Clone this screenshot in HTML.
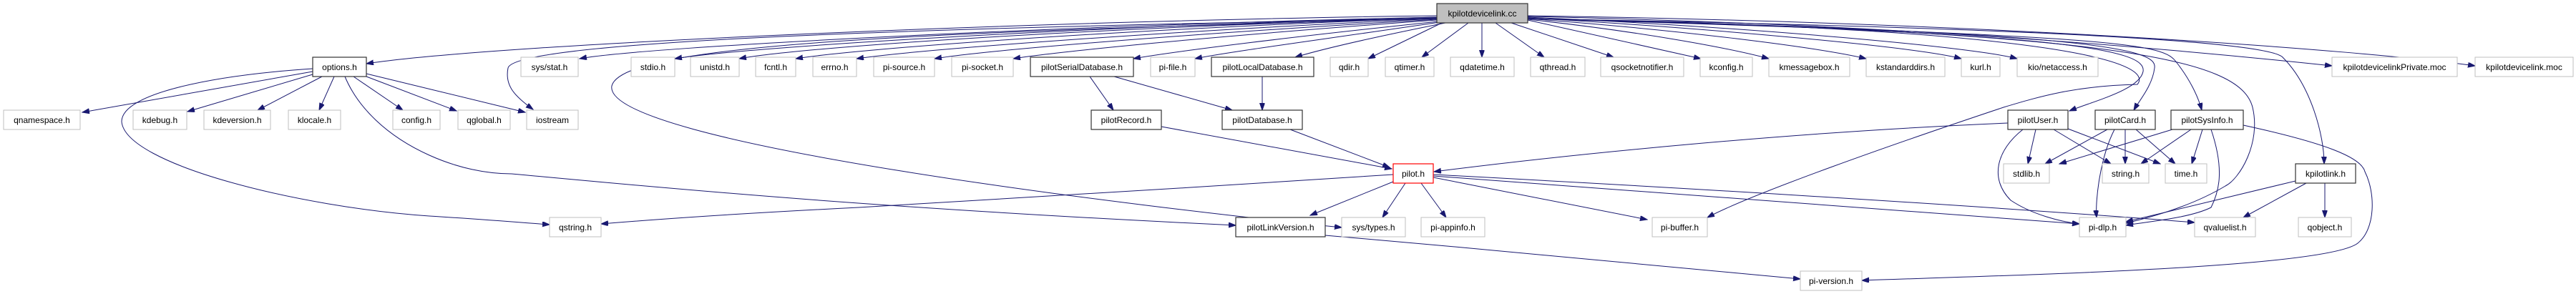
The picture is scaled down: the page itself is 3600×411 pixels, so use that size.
<!DOCTYPE html>
<html><head><meta charset="utf-8"><style>
html,body{margin:0;padding:0;background:#fff;}
svg{display:block;}
text{font-family:"Liberation Sans",sans-serif;font-size:12px;fill:#000;text-anchor:middle;}
.n{fill:#fff;stroke:#bfbfbf;stroke-width:1;}
.b{fill:#fff;stroke:#333;stroke-width:1.2;}
.e{fill:none;stroke:#191970;stroke-width:1;}
</style></head><body>
<svg width="3600" height="411" viewBox="0 0 3600 411" xmlns="http://www.w3.org/2000/svg">
<defs><marker id="a" markerUnits="userSpaceOnUse" markerWidth="11" markerHeight="8" refX="10" refY="3.5" orient="auto"><path d="M0,0 L10,3.5 L0,7 z" fill="#191970" stroke="#191970"/></marker></defs>
<g class="e" marker-end="url(#a)">
<!-- top edges -->
<path d="M2008,22 C1500,28 700,60 512,89"/>
<path d="M2008,24 C1500,35 900,65 810,82"/>
<path d="M2008,26 C1200,40 720,60 710,95 C705,120 720,135 745,153"/>
<path d="M2008,24 C1500,38 1050,65 943,82"/>
<path d="M2008,25 C1500,40 1120,66 1033,82"/>
<path d="M2008,25 C1550,42 1200,68 1112,82"/>
<path d="M2008,26 C1600,45 1280,70 1197,82"/>
<path d="M2008,27 C1650,48 1380,70 1306,82"/>
<path d="M2008,28 C1700,50 1480,72 1416,82"/>
<path d="M2010,30 C1800,52 1640,72 1584,82"/>
<path d="M2012,31 C1850,55 1720,72 1670,82"/>
<path d="M2020,32 C1930,50 1850,68 1810,80"/>
<path d="M2015,32 L1912,82"/>
<path d="M2052,32 L1987,80"/>
<path d="M2071,32 L2071,80"/>
<path d="M2090,32 L2158,80"/>
<path d="M2112,32 L2255,80"/>
<path d="M2135,28 L2377,82"/>
<path d="M2135,27 C2300,45 2420,68 2472,82"/>
<path d="M2135,26 C2350,42 2540,66 2608,82"/>
<path d="M2135,25 C2400,40 2680,66 2741,82"/>
<path d="M2135,24 C2450,38 2760,66 2819,82"/>
<path d="M2135,23 C2700,35 3100,75 3259,92"/>
<path d="M2135,22 C2800,32 3300,70 3459,92"/>
<path d="M2008,26 C1300,45 870,60 855,120 C840,200 1600,290 1875,318"/>
<path d="M2135,26 C2900,40 3010,90 2987,118 C2900,120 2850,135 2800,150 C2650,200 2450,270 2386,304"/>
<path d="M2135,26 C2900,45 3000,70 2995,100 C2990,125 2930,140 2892,155"/>
<path d="M2135,26 C2950,45 3015,70 3011,95 C3008,120 2990,140 2982,154"/>
<path d="M2135,26 C2950,50 3020,60 3040,85 C3060,110 3072,135 3077,154"/>
<path d="M2135,26 C2950,45 3130,80 3148,150 C3160,200 3130,250 3110,260 C3060,290 3000,305 2971,312"/>
<path d="M2135,26 C2900,40 3170,60 3190,80 C3230,120 3248,190 3248,229"/>
<!-- options -->
<path d="M437,100 L115,157"/>
<path d="M437,104 L262,156"/>
<path d="M450,107 L360,154"/>
<path d="M467,107 L446,154"/>
<path d="M494,107 L563,154"/>
<path d="M512,107 L638,155"/>
<path d="M512,103 L734,157"/>
<path d="M437,96 C300,105 170,130 170,170 C175,230 420,290 600,302 C680,307 740,312 768,314"/>
<path d="M482,107 C500,150 540,190 600,217 C640,235 680,243 715,243 C900,260 1200,290 1727,315"/>
<!-- databases -->
<path d="M1523,107 L1556,154"/>
<path d="M1557,107 L1722,154"/>
<path d="M1764,107 L1764,154"/>
<path d="M1623,177 L1945,236"/>
<path d="M1803,181 L1942,234"/>
<!-- pilot.h -->
<path d="M1947,244 C1700,260 1300,285 1200,290 C1000,300 900,308 840,313"/>
<path d="M1947,254 L1831,301"/>
<path d="M1964,256 L1932,304"/>
<path d="M1986,256 L2021,304"/>
<path d="M2003,248 L2302,307"/>
<path d="M2003,246 C2400,276 2700,300 2906,313"/>
<path d="M2003,244 C2400,265 2800,290 3067,311"/>
<path d="M1852,329 C2100,350 2400,380 2516,390"/>
<!-- pilotUser -->
<path d="M2806,172 C2500,185 2200,215 2004,240"/>
<path d="M2845,181 L2834,229"/>
<path d="M2870,181 L2950,229"/>
<path d="M2890,180 L3019,229"/>
<path d="M2827,181 C2790,210 2780,250 2810,280 C2840,300 2880,310 2906,313"/>
<!-- pilotCard -->
<path d="M2945,181 L2858,229"/>
<path d="M2970,181 L2970,229"/>
<path d="M2985,181 L3040,229"/>
<path d="M2955,181 C2935,220 2928,280 2930,304"/>
<!-- pilotSysInfo -->
<path d="M3036,181 L2878,229"/>
<path d="M3062,181 L2992,229"/>
<path d="M3078,181 L3063,229"/>
<path d="M3090,181 C3110,240 3100,270 3090,290 C3060,305 3000,310 2971,315"/>
<path d="M3135,175 C3250,200 3300,220 3305,240 C3320,270 3320,320 3295,340 C3250,375 2800,385 2602,392"/>
<!-- kpilotlink -->
<path d="M3208,253 L2971,310"/>
<path d="M3223,256 L3135,304"/>
<path d="M3249,256 L3249,304"/>
</g>
<!-- nodes -->
<rect x="2008" y="5" width="127" height="27" fill="#bfbfbf" stroke="#333" stroke-width="1.2"/><text x="2071.5" y="23">kpilotdevicelink.cc</text>
<rect class="b" x="437" y="80" width="75" height="27"/><text x="474.5" y="98">options.h</text>
<rect class="n" x="728" y="80" width="80" height="27"/><text x="768" y="98">sys/stat.h</text>
<rect class="n" x="882" y="80" width="61" height="27"/><text x="912.5" y="98">stdio.h</text>
<rect class="n" x="965" y="80" width="68" height="27"/><text x="999" y="98">unistd.h</text>
<rect class="n" x="1056" y="80" width="56" height="27"/><text x="1084" y="98">fcntl.h</text>
<rect class="n" x="1136" y="80" width="61" height="27"/><text x="1166.5" y="98">errno.h</text>
<rect class="n" x="1221" y="80" width="85" height="27"/><text x="1263.5" y="98">pi-source.h</text>
<rect class="n" x="1330" y="80" width="86" height="27"/><text x="1373" y="98">pi-socket.h</text>
<rect class="b" x="1440" y="80" width="144" height="27"/><text x="1512" y="98">pilotSerialDatabase.h</text>
<rect class="n" x="1608" y="80" width="62" height="27"/><text x="1639" y="98">pi-file.h</text>
<rect class="b" x="1693" y="80" width="143" height="27"/><text x="1764.5" y="98">pilotLocalDatabase.h</text>
<rect class="n" x="1859" y="80" width="53" height="27"/><text x="1885.5" y="98">qdir.h</text>
<rect class="n" x="1936" y="80" width="68" height="27"/><text x="1970" y="98">qtimer.h</text>
<rect class="n" x="2027" y="80" width="89" height="27"/><text x="2071.5" y="98">qdatetime.h</text>
<rect class="n" x="2139" y="80" width="76" height="27"/><text x="2177" y="98">qthread.h</text>
<rect class="n" x="2237" y="80" width="116" height="27"/><text x="2295" y="98">qsocketnotifier.h</text>
<rect class="n" x="2376" y="80" width="73" height="27"/><text x="2412.5" y="98">kconfig.h</text>
<rect class="n" x="2472" y="80" width="113" height="27"/><text x="2528.5" y="98">kmessagebox.h</text>
<rect class="n" x="2608" y="80" width="110" height="27"/><text x="2663" y="98">kstandarddirs.h</text>
<rect class="n" x="2741" y="80" width="54" height="27"/><text x="2768" y="98">kurl.h</text>
<rect class="n" x="2819" y="80" width="113" height="27"/><text x="2875.5" y="98">kio/netaccess.h</text>
<rect class="n" x="3259" y="80" width="175" height="27"/><text x="3346.5" y="98">kpilotdevicelinkPrivate.moc</text>
<rect class="n" x="3459" y="80" width="137" height="27"/><text x="3527.5" y="98">kpilotdevicelink.moc</text>

<rect class="n" x="5" y="154" width="107" height="27"/><text x="58.5" y="172">qnamespace.h</text>
<rect class="n" x="186" y="154" width="75" height="27"/><text x="223.5" y="172">kdebug.h</text>
<rect class="n" x="285" y="154" width="93" height="27"/><text x="331.5" y="172">kdeversion.h</text>
<rect class="n" x="403" y="154" width="73" height="27"/><text x="439.5" y="172">klocale.h</text>
<rect class="n" x="549" y="154" width="66" height="27"/><text x="582" y="172">config.h</text>
<rect class="n" x="640" y="154" width="73" height="27"/><text x="676.5" y="172">qglobal.h</text>
<rect class="n" x="736" y="154" width="72" height="27"/><text x="772" y="172">iostream</text>
<rect class="b" x="1525" y="154" width="98" height="27"/><text x="1574" y="172">pilotRecord.h</text>
<rect class="b" x="1708" y="154" width="112" height="27"/><text x="1764" y="172">pilotDatabase.h</text>
<rect class="b" x="2806" y="154" width="84" height="27"/><text x="2848" y="172">pilotUser.h</text>
<rect class="b" x="2928" y="154" width="84" height="27"/><text x="2970" y="172">pilotCard.h</text>
<rect class="b" x="3034" y="154" width="101" height="27"/><text x="3084.5" y="172">pilotSysInfo.h</text>

<rect x="1947" y="229" width="56" height="27" fill="#fff" stroke="#ff0000" stroke-width="1.2"/><text x="1975" y="247">pilot.h</text>
<rect class="n" x="2800" y="229" width="64" height="27"/><text x="2832" y="247">stdlib.h</text>
<rect class="n" x="2938" y="229" width="65" height="27"/><text x="2970.5" y="247">string.h</text>
<rect class="n" x="3026" y="229" width="58" height="27"/><text x="3055" y="247">time.h</text>
<rect class="b" x="3208" y="229" width="84" height="27"/><text x="3250" y="247">kpilotlink.h</text>

<rect class="n" x="768" y="304" width="72" height="27"/><text x="804" y="322">qstring.h</text>
<rect class="b" x="1727" y="304" width="125" height="27"/><text x="1789.5" y="322">pilotLinkVersion.h</text>
<rect class="n" x="1875" y="304" width="89" height="27"/><text x="1919.5" y="322">sys/types.h</text>
<rect class="n" x="1986" y="304" width="89" height="27"/><text x="2030.5" y="322">pi-appinfo.h</text>
<rect class="n" x="2309" y="304" width="77" height="27"/><text x="2347.5" y="322">pi-buffer.h</text>
<rect class="n" x="2906" y="304" width="65" height="27"/><text x="2938.5" y="322">pi-dlp.h</text>
<rect class="n" x="3067" y="304" width="85" height="27"/><text x="3109.5" y="322">qvaluelist.h</text>
<rect class="n" x="3212" y="304" width="74" height="27"/><text x="3249" y="322">qobject.h</text>

<rect class="n" x="2516" y="379" width="86" height="27"/><text x="2559" y="397">pi-version.h</text>
</svg>
</body></html>
